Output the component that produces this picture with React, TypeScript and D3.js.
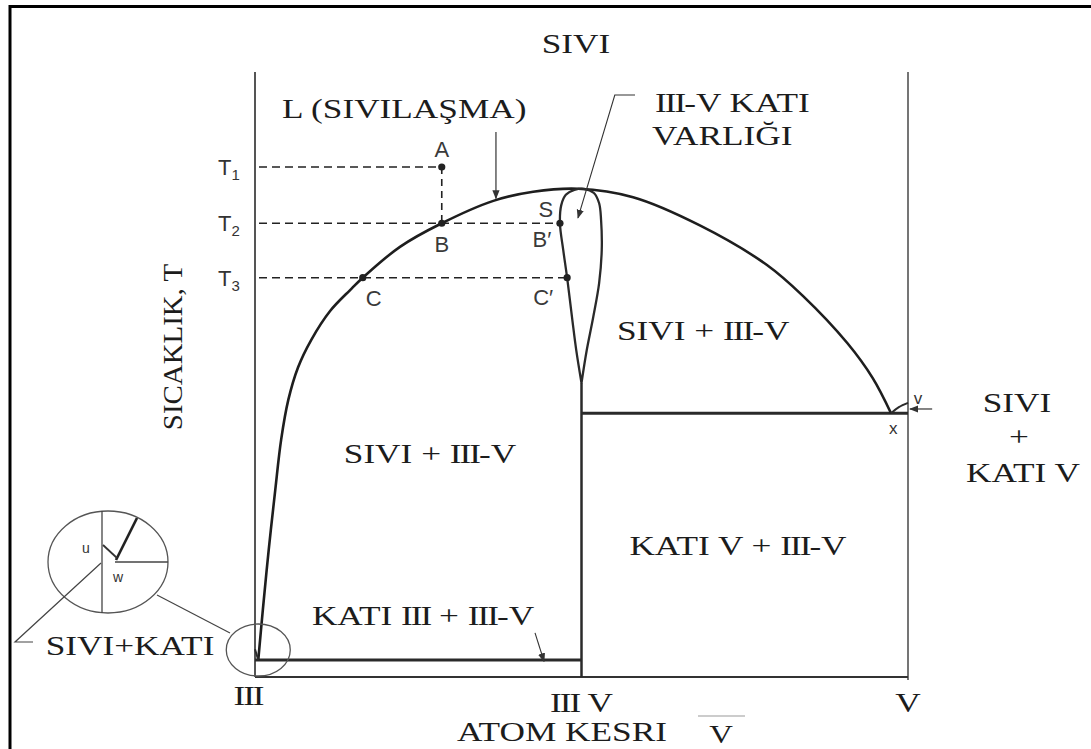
import React from "react";
import * as d3 from "d3";

const W = 1091;
const H = 749;

// Composition = atom fraction of V (0 = pure III, 0.5 = III-V compound, 1 = pure V).
// Temperature is in arbitrary units (0 at the bottom axis, 100 at the top of the frame lines).
const liquidus: [number, number][] = [
  [0.005, 2.8], [0.012, 11.1], [0.021, 21.0], [0.031, 30.9], [0.040, 39.2],
  [0.051, 45.8], [0.066, 51.2], [0.086, 55.7], [0.115, 60.5], [0.146, 64.0],
  [0.165, 66.0], [0.222, 71.1], [0.286, 75.0], [0.365, 78.7], [0.426, 80.2],
  [0.495, 80.7], [0.579, 79.3], [0.682, 74.6], [0.784, 68.1], [0.839, 63.0],
  [0.907, 55.2], [0.946, 49.4], [0.974, 43.6],
];

// Existence region of the solid III-V compound (closed teardrop)
const compoundLoop: [number, number][] = [
  [0.500, 48.6], [0.492, 54.0], [0.486, 59.0], [0.478, 66.0], [0.472, 70.6],
  [0.467, 75.0], [0.469, 78.0], [0.476, 79.7], [0.489, 80.5], [0.504, 80.7],
  [0.519, 80.0], [0.527, 78.3], [0.530, 75.5], [0.531, 70.6], [0.527, 65.1],
  [0.518, 59.5], [0.508, 54.0], [0.500, 48.6],
];

const vSideLiquidus: [number, number][] = [[0.974, 43.6], [0.986, 44.6], [1.0, 45.3]];
const iiiSideLiquidus: [number, number][] = [[0.0, 4.6], [0.005, 2.8]];

const eutecticV = 43.6;
const eutecticIII = 2.8;
const compoundX = 0.5;

const isotherms = [
  { sub: "1", t: 84.3, to: 0.286 },
  { sub: "2", t: 75.0, to: 0.467 },
  { sub: "3", t: 66.0, to: 0.478 },
];

const statePoints = [
  { name: "A", x: 0.286, t: 84.3 },
  { name: "B", x: 0.286, t: 75.0 },
  { name: "C", x: 0.165, t: 66.0 },
  { name: "B′", x: 0.467, t: 75.0 },
  { name: "C′", x: 0.478, t: 66.0 },
];

const compositionTicks = [
  { x: 0, label: "III" },
  { x: 0.5, label: "III V" },
  { x: 1, label: "V" },
];

const x = d3.scaleLinear().domain([0, 1]).range([255, 908]);
const y = d3.scaleLinear().domain([0, 100]).range([677, 72]);

const curve = d3
  .line<[number, number]>()
  .x((d) => x(d[0]))
  .y((d) => y(d[1]))
  .curve(d3.curveCatmullRom.alpha(0.5));

const straight = d3
  .line<[number, number]>()
  .x((d) => x(d[0]))
  .y((d) => y(d[1]));

const SERIF = "'Liberation Serif', 'Times New Roman', serif";
const SANS = "'Liberation Sans', Arial, sans-serif";
const INK = "#1c1c1c";

// Roman numeral "III" is set tight so its serifs join into bars
function roman(str: string) {
  const parts = str.split(/(III)/);
  return parts.map((p, i) =>
    p === "III" ? (
      <tspan key={i} letterSpacing={-1.6}>
        {p}
      </tspan>
    ) : (
      <tspan key={i}>{p}</tspan>
    )
  );
}

function Serif({
  px,
  py,
  children,
  anchor = "middle",
  sx = 1.26,
  size = 28,
}: {
  px: number;
  py: number;
  children: string;
  anchor?: "start" | "middle" | "end";
  sx?: number;
  size?: number;
}) {
  return (
    <text
      transform={`translate(${px},${py}) scale(${sx},1)`}
      textAnchor={anchor}
      fontFamily={SERIF}
      fontSize={size}
      fill={INK}
    >
      {roman(children)}
    </text>
  );
}

// label offsets for the state points (pixels, relative to the point)
const pointLabelOffset: Record<string, [number, number]> = {
  A: [0, -10],
  B: [0, 29],
  C: [11, 28],
  "B′": [-18, 24],
  "C′": [-24, 27],
};

export default function App() {
  const peak = liquidus.reduce((a, b) => (b[1] > a[1] ? b : a));
  return (
    <svg width={W} height={H} style={{ position: "absolute", left: 0, top: 0, background: "#fff" }}>
      <defs>
        <marker id="tip" viewBox="0 0 10 10" refX="9" refY="5" markerWidth="9" markerHeight="9" markerUnits="userSpaceOnUse" orient="auto">
          <path d="M0,1 L10,5 L0,9 z" fill="#333" />
        </marker>
      </defs>
      <rect width={W} height={H} fill="#fff" />

      {/* outer frame (top and left edges) */}
      <line x1={9} x2={W} y1={6.5} y2={6.5} stroke="#000" strokeWidth={3} />
      <line x1={10} x2={10} y1={5} y2={H} stroke="#000" strokeWidth={3} />

      {/* axes */}
      <line x1={x(0)} x2={x(0)} y1={y(100)} y2={y(0)} stroke="#555" strokeWidth={2} />
      <line x1={x(1)} x2={x(1)} y1={y(100)} y2={y(0) + 3} stroke="#666" strokeWidth={1.8} />
      <line x1={x(0)} x2={x(1)} y1={y(0)} y2={y(0)} stroke="#333" strokeWidth={2} />

      {/* compound composition line and eutectic isotherms */}
      <line x1={x(compoundX)} x2={x(compoundX)} y1={y(compoundLoop[0][1])} y2={y(0)} stroke="#2a2a2a" strokeWidth={2.5} />
      <line x1={x(compoundX)} x2={x(1)} y1={y(eutecticV)} y2={y(eutecticV)} stroke="#2a2a2a" strokeWidth={3} />
      <line x1={x(0)} x2={x(compoundX)} y1={y(eutecticIII)} y2={y(eutecticIII)} stroke="#2a2a2a" strokeWidth={3} />

      {/* isotherms T1..T3 */}
      {isotherms.map((d) => (
        <g key={d.sub}>
          <line x1={x(0) + 4} x2={x(d.to)} y1={y(d.t)} y2={y(d.t)} stroke="#222" strokeWidth={1.6} strokeDasharray="8,5" />
          <text x={x(0) - 37} y={y(d.t) + 8} fontFamily={SANS} fontSize={22} fill="#333">
            T<tspan fontSize={15} dy={5}>{d.sub}</tspan>
          </text>
        </g>
      ))}
      {/* vertical cooling path A -> B */}
      <line x1={x(statePoints[0].x)} x2={x(statePoints[1].x)} y1={y(statePoints[0].t)} y2={y(statePoints[1].t)} stroke="#222" strokeWidth={1.6} strokeDasharray="7,5" />

      {/* liquidus and compound region */}
      <path d={curve(liquidus) || ""} fill="none" stroke="#1e1e1e" strokeWidth={2.6} />
      <path d={curve(compoundLoop) || ""} fill="none" stroke="#2a2a2a" strokeWidth={2.3} />
      <path d={curve(vSideLiquidus) || ""} fill="none" stroke="#2a2a2a" strokeWidth={2} />
      <path d={straight(iiiSideLiquidus) || ""} fill="none" stroke="#2a2a2a" strokeWidth={2} />

      {/* state points */}
      {statePoints.map((p) => {
        const [dx, dy] = pointLabelOffset[p.name];
        return (
          <g key={p.name}>
            <circle cx={x(p.x)} cy={y(p.t)} r={3.6} fill="#222" />
            <text x={x(p.x) + dx} y={y(p.t) + dy} textAnchor="middle" fontFamily={SANS} fontSize={22} fill="#3a3a3a">
              {p.name}
            </text>
          </g>
        );
      })}
      <text x={x(compoundLoop[5][0]) - 14} y={y(compoundLoop[5][1]) - 6} textAnchor="middle" fontFamily={SANS} fontSize={22} fill="#3a3a3a">
        S
      </text>

      {/* pointer arrows */}
      <path d={straight([[0.369, 90.1], [0.369, peak[1] - 1.6]]) || ""} stroke="#333" strokeWidth={1.2} fill="none" markerEnd="url(#tip)" />
      <path d={straight([[0.582, 96.2], [0.551, 96.2], [0.4946, 75.9]]) || ""} stroke="#333" strokeWidth={1.1} fill="none" markerEnd="url(#tip)" />
      <path d={straight([[0.4288, 7.3], [0.4426, eutecticIII - 0.2]]) || ""} stroke="#333" strokeWidth={1.1} fill="none" markerEnd="url(#tip)" />
      <path d={straight([[1.037, 44.3], [1.003, 44.3]]) || ""} stroke="#333" strokeWidth={1.2} fill="none" markerEnd="url(#tip)" />
      <text x={x(0.976) + 1} y={y(eutecticV) + 21} textAnchor="middle" fontFamily={SANS} fontSize={17} fill="#333">x</text>
      <text x={x(1) + 10} y={y(eutecticV) - 9} textAnchor="middle" fontFamily={SANS} fontSize={17} fill="#333">v</text>

      {/* region and axis labels */}
      <Serif px={576} py={53}>SIVI</Serif>
      <Serif px={282} py={118} anchor="start">L (SIVILAŞMA)</Serif>
      <Serif px={655} py={112} anchor="start">III-V KATI</Serif>
      <Serif px={652} py={145} anchor="start">VARLIĞI</Serif>
      <Serif px={617} py={340} anchor="start">SIVI + III-V</Serif>
      <Serif px={430} py={463}>SIVI + III-V</Serif>
      <Serif px={738} py={555}>KATI V + III-V</Serif>
      <Serif px={423} py={625}>KATI III + III-V</Serif>
      <Serif px={1017} py={412}>SIVI</Serif>
      <Serif px={1019} py={446}>+</Serif>
      <Serif px={1023} py={482}>KATI V</Serif>
      <Serif px={130} py={655}>SIVI+KATI</Serif>

      <text transform="translate(182,347) rotate(-90) scale(1.07,1)" textAnchor="middle" fontFamily={SERIF} fontSize={27} fill={INK}>
        SICAKLIK, T
      </text>

      {compositionTicks.map((t) => (
        <Serif key={t.label} px={x(t.x) - (t.x === 0 ? 7 : 0)} py={y(0) + (t.x === 0 ? 28 : 35)}>
          {t.label}
        </Serif>
      ))}
      <Serif px={562} py={741}>ATOM KESRI</Serif>
      <line x1={698} x2={745} y1={716} y2={716} stroke="#bbb" strokeWidth={1.5} />
      <Serif px={721} py={743} size={26}>V</Serif>

      {/* magnified inset of the III-rich corner */}
      <ellipse cx={x(0.005)} cy={650} rx={32} ry={26} fill="none" stroke="#555" strokeWidth={1.3} />
      <ellipse cx={108} cy={562} rx={60} ry={51} fill="none" stroke="#555" strokeWidth={1.3} />
      <line x1={102} x2={102} y1={511} y2={613} stroke="#444" strokeWidth={1.3} />
      <line x1={115} x2={168} y1={562} y2={562} stroke="#444" strokeWidth={1.3} />
      <line x1={116} x2={137} y1={560} y2={518} stroke="#222" strokeWidth={2.6} />
      <line x1={103} x2={117} y1={545} y2={558} stroke="#333" strokeWidth={1.8} />
      <polyline points="101,563 15,642 33,642" fill="none" stroke="#444" strokeWidth={1.2} />
      <line x1={157} x2={230} y1={595} y2={633} stroke="#444" strokeWidth={1.2} />
      <text x={86} y={553} textAnchor="middle" fontFamily={SANS} fontSize={14} fill="#333">u</text>
      <text x={118} y={582} textAnchor="middle" fontFamily={SANS} fontSize={14} fill="#333">w</text>
    </svg>
  );
}
